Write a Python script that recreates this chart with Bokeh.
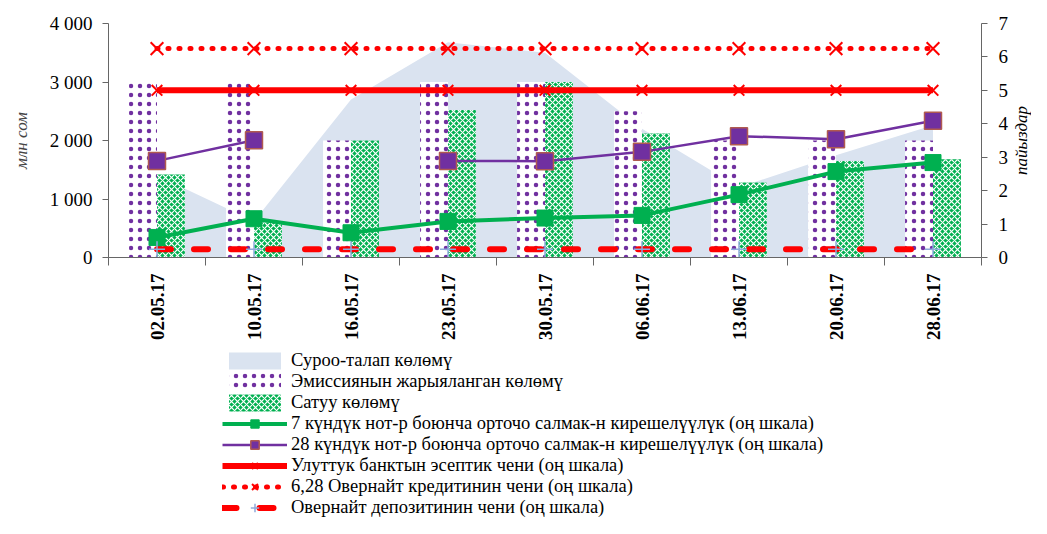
import math
import numpy as np
from bokeh.plotting import figure
from bokeh.layouts import column, row
from bokeh.models import (Range1d, LinearAxis, FixedTicker, Legend, LegendItem,
                          ColumnDataSource, Label)
from bokeh.transform import dodge
from bokeh.embed import file_html
from bokeh.resources import INLINE

# ---------------- data ----------------
dates = ["02.05.17", "10.05.17", "16.05.17", "23.05.17", "30.05.17",
         "06.06.17", "13.06.17", "20.06.17", "28.06.17"]
demand = [1400, 620, 2700, 3680, 3500, 2200, 1200, 1750, 2260]        # млн сом
emission = [3000, 3000, 2000, 3000, 3000, 2500, 2000, 2000, 2000]      # млн сом
sales = [1420, 600, 2000, 2520, 3000, 2120, 1280, 1650, 1680]          # млн сом
yield7 = [0.60, 1.16, 0.74, 1.08, 1.18, 1.26, 1.88, 2.57, 2.84]        # %
yield28 = [2.89, 3.51, float("nan"), 2.89, 2.88, 3.16, 3.63, 3.54, 4.09]  # %
policy_rate = [5.0, 5.0, 5.0, 5.0, 5.0, 5.0, 5.0, 5.0, 5.0]
overnight_credit = [6.25, 6.25, 6.25, 6.25, 6.25, 6.25, 6.25, 6.25, 6.25]
overnight_deposit = [0.25, 0.25, 0.25, 0.25, 0.25, 0.25, 0.25, 0.25, 0.25]

left_ticks = [0, 1000, 2000, 3000, 4000]
left_tick_labels = ["0", "1 000", "2 000", "3 000", "4 000"]
right_ticks = [0, 1, 2, 3, 4, 5, 6, 7]
left_title = "млн сом"
right_title = "пайыздар"

legend_labels = [
    "Суроо-талап көлөмү",
    "Эмиссиянын жарыяланган көлөмү",
    "Сатуу көлөмү",
    "7 күндүк нот-р боюнча орточо салмак-н кирешелүүлүк (оң шкала)",
    "28 күндүк нот-р боюнча орточо салмак-н кирешелүүлүк (оң шкала)",
    "Улуттук банктын эсептик чени (оң шкала)",
    "6,28 Овернайт кредитинин чени (оң шкала)",
    "Овернайт депозитинин чени (оң шкала)",
]

# ---------------- styles ----------------
FONT = "Liberation Serif"
AX = "#666666"
S_AREA = dict(fill_color="#dae3f0")
S_EM = dict(fill_color="white", line_color=None, hatch_pattern="dot",
            hatch_color="#7030a0", hatch_scale=9, hatch_weight=3)
S_SA = dict(fill_color="#00b050", line_color=None, hatch_pattern="diagonal_cross",
            hatch_color="white", hatch_scale=6, hatch_weight=1.2)
S_L7 = dict(line_color="#00b050", line_width=4)
S_M7 = dict(marker="square", size=16, fill_color="#00b050", line_color="#00b050")
S_L28 = dict(line_color="#7030a0", line_width=2.5)
S_M28 = dict(marker="square", size=17, fill_color="#7030a0", line_color="#b05a50", line_width=1.5)
S_LP = dict(line_color="#ff0000", line_width=6)
S_MP = dict(marker="x", size=15, line_color="#ff0000", line_width=2)
S_LC = dict(line_color="#ff0000", line_width=5, line_dash="1 10", line_cap="round")
S_MC = dict(marker="x", size=18, line_color="#ff0000", line_width=2)
S_LD = dict(line_color="#ff0000", line_width=6, line_dash="14 23", line_cap="round")
S_MD = dict(marker="cross", size=16, line_color="#8eaadb", line_width=1.5)

x = np.arange(len(dates)) + 0.5
src = ColumnDataSource(dict(x=x, demand=demand, emission=emission, sales=sales,
                            y7=yield7, y28=yield28, pol=policy_rate,
                            oc=overnight_credit, od=overnight_deposit))


def add_series(fig, y_name):
    """Draw all series on fig; returns renderer groups in legend order."""
    a = fig.varea(x="x", y1=0, y2="demand", source=src, **S_AREA)
    e = fig.vbar(x=dodge("x", -0.144), top="emission", width=0.288, source=src, **S_EM)
    s = fig.vbar(x=dodge("x", 0.144), top="sales", width=0.288, source=src, **S_SA)
    l7 = fig.line("x", "y7", source=src, y_range_name=y_name, **S_L7)
    m7 = fig.scatter("x", "y7", source=src, y_range_name=y_name, **S_M7)
    l28 = fig.line("x", "y28", source=src, y_range_name=y_name, **S_L28)
    m28 = fig.scatter("x", "y28", source=src, y_range_name=y_name, **S_M28)
    lp = fig.line("x", "pol", source=src, y_range_name=y_name, **S_LP)
    mp = fig.scatter("x", "pol", source=src, y_range_name=y_name, **S_MP)
    lc = fig.line("x", "oc", source=src, y_range_name=y_name, **S_LC)
    mc = fig.scatter("x", "oc", source=src, y_range_name=y_name, **S_MC)
    ld = fig.line("x", "od", source=src, y_range_name=y_name, **S_LD)
    md = fig.scatter("x", "od", source=src, y_range_name=y_name, **S_MD)
    return [[a], [e], [s], [l7, m7], [l28, m28], [lp, mp], [lc, mc], [ld, md]]


W_MAIN = 1011
W_SIDE = 20
H_MAIN = 343
H_KEY = 175

# ---------------- main chart ----------------
p = figure(width=W_MAIN, height=H_MAIN, output_backend="svg", toolbar_location=None,
           x_range=Range1d(0, len(dates)), y_range=Range1d(0, 4000),
           min_border_left=108, min_border_right=28, min_border_top=23,
           min_border_bottom=85)
p.extra_y_ranges = {"pct": Range1d(0, 7)}
p.outline_line_color = None
p.xgrid.visible = False
p.ygrid.visible = False

ya = p.yaxis[0]
ya.ticker = FixedTicker(ticks=left_ticks)
ya.major_label_overrides = {t: l for t, l in zip(left_ticks, left_tick_labels)}
ya.axis_label = left_title
ya.axis_label_text_font = FONT
ya.axis_label_text_font_style = "italic"
ya.axis_label_text_font_size = "17px"
ya.axis_label_standoff = 16
ya.major_label_text_font = FONT
ya.major_label_text_font_size = "19px"
ya.major_label_text_color = "black"
ya.major_label_standoff = 10
ya.major_tick_out = 6
ya.major_tick_in = 0
ya.minor_tick_line_color = None
ya.axis_line_color = AX
ya.major_tick_line_color = AX

ra = LinearAxis(y_range_name="pct", ticker=FixedTicker(ticks=right_ticks))
ra.major_label_text_font = FONT
ra.major_label_text_font_size = "19px"
ra.major_label_text_color = "black"
ra.major_label_standoff = 11
ra.major_tick_out = 6
ra.major_tick_in = 0
ra.minor_tick_line_color = None
ra.axis_line_color = AX
ra.major_tick_line_color = AX
p.add_layout(ra, "right")

xa = p.xaxis[0]
xa.ticker = FixedTicker(ticks=list(x), minor_ticks=list(range(len(dates) + 1)))
xa.major_label_overrides = {float(v): d for v, d in zip(x, dates)}
xa.major_label_orientation = math.pi / 2
xa.major_label_text_font = FONT
xa.major_label_text_font_style = "bold"
xa.major_label_text_font_size = "19px"
xa.major_label_text_color = "black"
xa.major_label_standoff = 8
xa.major_tick_line_color = None
xa.major_tick_out = 0
xa.major_tick_in = 0
xa.minor_tick_out = 8
xa.minor_tick_in = 0
xa.minor_tick_line_color = AX
xa.axis_line_color = AX

add_series(p, "pct")

# ---------------- right-scale title strip ----------------
rf = figure(width=W_SIDE, height=H_MAIN, output_backend="svg", toolbar_location=None,
            x_axis_type=None, y_axis_type=None, min_border=0,
            x_range=Range1d(0, 1), y_range=Range1d(0, 1))
rf.outline_line_color = None
rf.xgrid.visible = False
rf.ygrid.visible = False
rf.add_layout(Label(x=0.5, y=0.592, text=right_title, angle=math.pi / 2,
                    text_align="center", text_baseline="middle", text_font=FONT,
                    text_font_style="italic", text_font_size="17px", text_color="black"))

# ---------------- legend panel ----------------
# the same series on a figure whose ranges show none of them; only the key is visible
lf = figure(width=W_MAIN, height=H_KEY, output_backend="svg", toolbar_location=None,
            x_axis_type=None, y_axis_type=None, min_border=0,
            x_range=Range1d(100, 101), y_range=Range1d(10000, 10001))
lf.extra_y_ranges = {"pct2": Range1d(100, 101)}
lf.outline_line_color = None
lf.xgrid.visible = False
lf.ygrid.visible = False
groups = add_series(lf, "pct2")

items = [LegendItem(label=lab, renderers=rs) for lab, rs in zip(legend_labels, groups)]
legend = Legend(items=items, location=(114, 0), orientation="vertical",
                spacing=0, padding=0, margin=0, glyph_width=65, glyph_height=21,
                label_height=21, label_standoff=4, label_text_font=FONT,
                label_text_font_size="18.5px", label_text_color="black",
                border_line_color=None, background_fill_alpha=0)
lf.add_layout(legend, "center")

layout = row(column(p, lf, spacing=0), rf, spacing=0)
open("out.html", "w").write(file_html(layout, INLINE))
